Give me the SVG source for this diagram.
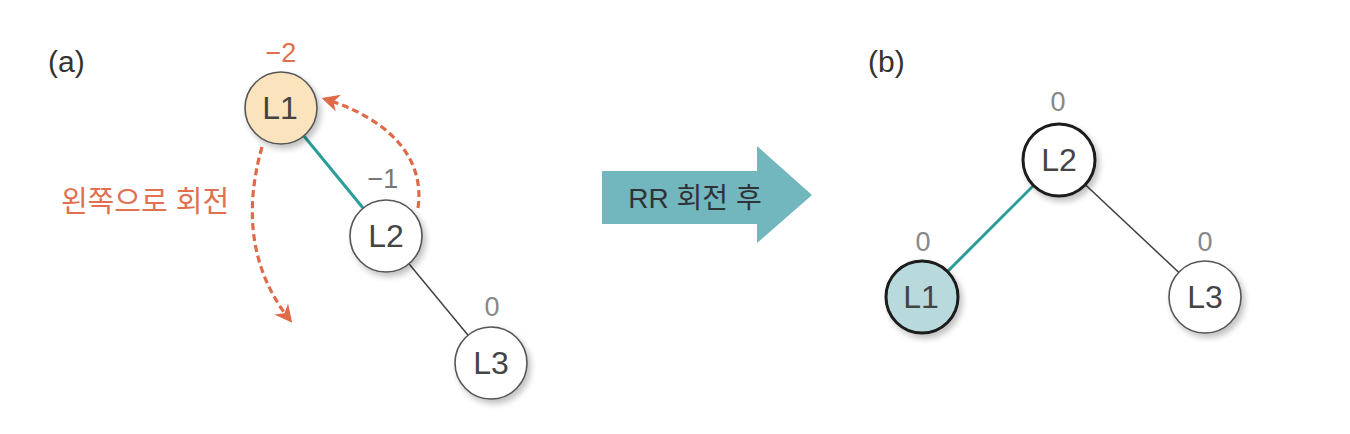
<svg xmlns="http://www.w3.org/2000/svg" width="1350" height="434" viewBox="0 0 1350 434">
<defs>
<style>
text{font-family:"Liberation Sans","Noto Sans CJK KR",Arial,sans-serif;}
.lbl{font-size:32px;fill:#444;text-anchor:middle;}
.bal{font-size:27px;fill:#888;text-anchor:middle;}
.na{stroke:#555;stroke-width:1.6;}
.nb{stroke:#1a1a1a;stroke-width:3;}
.teal{stroke:#2a9d9a;stroke-width:3;fill:none;}
.gray{stroke:#3c3f48;stroke-width:1.5;fill:none;}
.dash{stroke:#e06a48;stroke-width:3.2;fill:none;stroke-dasharray:7 4;}
</style>
<filter id="sh" x="-30%" y="-30%" width="170%" height="170%">
<feGaussianBlur in="SourceAlpha" stdDeviation="3"/>
<feOffset dx="3" dy="4" result="b"/>
<feComponentTransfer><feFuncA type="linear" slope="0.25"/></feComponentTransfer>
<feMerge><feMergeNode/><feMergeNode in="SourceGraphic"/></feMerge>
</filter>
<marker id="ah" viewBox="0 0 10 10" refX="8" refY="5" markerWidth="5.5" markerHeight="5.5" orient="auto" markerUnits="strokeWidth">
<path d="M0,0 L10,5 L0,10 L3,5 z" fill="#e06a48"/>
</marker>
</defs>
<rect width="1350" height="434" fill="#ffffff"/>

<text x="48" y="72" style="font-size:30px;fill:#333">(a)</text>
<text x="868" y="72" style="font-size:30px;fill:#333">(b)</text>

<g id="connectors">
<line class="teal" x1="281" y1="108" x2="386" y2="236"/>
<line class="gray" x1="386" y1="236" x2="491" y2="363"/>
<line class="teal" x1="1059" y1="160" x2="922" y2="297"/>
<line class="gray" x1="1059" y1="160" x2="1205" y2="297"/>
<path class="dash" d="M418 208 C425 160 392 120 325 99" marker-end="url(#ah)"/>
<path class="dash" d="M262 147 C244 210 250 270 290 320" marker-end="url(#ah)"/>
</g>

<text x="145" y="212" style="font-size:29px;fill:#e0704f;text-anchor:middle">왼쪽으로 회전</text>

<g id="a-L1">
<circle class="na" cx="281" cy="108" r="36" fill="#fbe3bd" filter="url(#sh)"/>
<text class="lbl" x="280" y="119">L1</text>
<text x="281" y="62" style="font-size:27px;fill:#e0704f;text-anchor:middle">−2</text>
</g>
<g id="a-L2">
<circle class="na" cx="386" cy="236" r="36" fill="#ffffff" filter="url(#sh)"/>
<text class="lbl" x="386" y="247">L2</text>
<text x="383" y="188" style="font-size:27px;fill:#777;text-anchor:middle">−1</text>
</g>
<g id="a-L3">
<circle class="na" cx="491" cy="363" r="36" fill="#ffffff" filter="url(#sh)"/>
<text class="lbl" x="491" y="374">L3</text>
<text class="bal" x="492" y="316">0</text>
</g>

<g id="arrow">
<path d="M602 171 L757 171 L757 146 L812 195 L757 243 L757 224 L602 224 Z" fill="#72b7bd"/>
<text x="695" y="208" style="font-size:28px;fill:#2f3338;text-anchor:middle">RR 회전 후</text>
</g>

<g id="b-L2">
<circle class="nb" cx="1059" cy="160" r="36" fill="#ffffff" filter="url(#sh)"/>
<text class="lbl" x="1059" y="171">L2</text>
<text class="bal" x="1058" y="111">0</text>
</g>
<g id="b-L1">
<circle class="nb" cx="922" cy="297" r="36" fill="#b9dadc" filter="url(#sh)"/>
<text class="lbl" x="921" y="308">L1</text>
<text class="bal" x="923" y="251">0</text>
</g>
<g id="b-L3">
<circle class="na" cx="1205" cy="297" r="36" fill="#ffffff" filter="url(#sh)"/>
<text class="lbl" x="1205" y="308">L3</text>
<text class="bal" x="1205" y="251">0</text>
</g>
</svg>
